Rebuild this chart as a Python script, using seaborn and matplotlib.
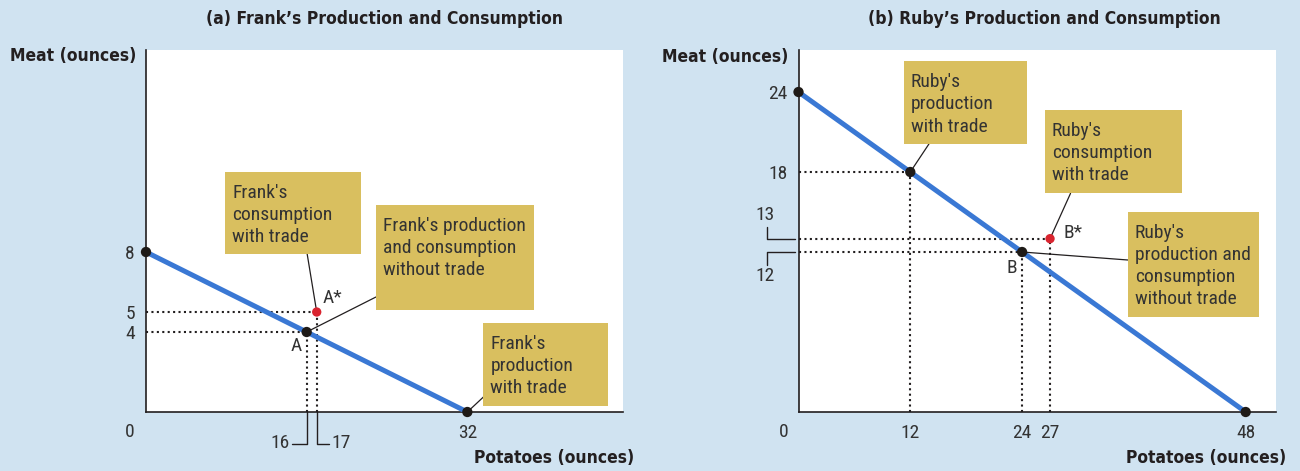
import matplotlib
matplotlib.use("Agg")
import matplotlib.pyplot as plt
import seaborn as sb
from matplotlib import font_manager
from matplotlib.patches import Rectangle

# Data: production possibility frontiers and the marked bundles
frank_potatoes = [0, 32]
frank_meat = [8, 0]
frank_points_x = [0, 16, 32]
frank_points_y = [8, 4, 0]
frank_trade_x = [17]
frank_trade_y = [5]

ruby_potatoes = [0, 48]
ruby_meat = [24, 0]
ruby_points_x = [0, 12, 24, 48]
ruby_points_y = [24, 18, 12, 0]
ruby_trade_x = [27]
ruby_trade_y = [13]

frank_yticks = [8, 5, 4]
frank_xticks = [32]
ruby_yticks = [24, 18]
ruby_xticks = [12, 24, 27, 48]

sb.set_theme(style="white")
names = {f.name for f in font_manager.fontManager.ttflist}
fams = [n for n in ["Roboto Condensed", "Liberation Sans Narrow", "DejaVu Sans"] if n in names]
plt.rcParams["font.family"] = fams
plt.rcParams["font.stretch"] = "condensed"
BOLD = dict(family=["DejaVu Sans"], fontstretch="condensed", fontweight="bold")

BG = "#d0e3f1"
LINE = "#3a78d4"
DOT = "#1e1a17"
RED = "#d9242f"
BOX = "#d9bf5f"
INK = "#231f20"
TXT = "#333333"
FS = 14

fig = plt.figure(figsize=(13, 4.71), dpi=100)
fig.patch.set_facecolor(BG)
ax_a = fig.add_axes([146 / 1300, 59 / 471, 477 / 1300, 362 / 471])
ax_b = fig.add_axes([798.5 / 1300, 59 / 471, 477 / 1300, 362 / 471])


def frame(ax, xmax, ymax):
    ax.set_xlim(0, xmax)
    ax.set_ylim(0, ymax)
    ax.set_facecolor("white")
    for s in ["top", "right"]:
        ax.spines[s].set_visible(False)
    for s in ["left", "bottom"]:
        ax.spines[s].set_color(INK)
        ax.spines[s].set_linewidth(1.2)
    ax.tick_params(length=0, labelsize=FS, colors=TXT)
    ax.tick_params(axis="y", pad=8)
    ax.tick_params(axis="x", pad=9)


def guides(ax, xs, ys):
    for x, y in zip(xs, ys):
        ax.plot([0, x], [y, y], ls=(0, (1, 1.6)), lw=1.5, color=INK, zorder=2)
        ax.plot([x, x], [0, y], ls=(0, (1, 1.6)), lw=1.5, color=INK, zorder=2)


def note(ax, x0, y0, x1, y1, text, tip, start):
    ax.add_patch(Rectangle((x0, y0), x1 - x0, y1 - y0, fc=BOX, ec="none", zorder=4))
    ax.annotate(text, xy=(x0, y1), xytext=(5, -8.5), textcoords="offset points",
                va="top", ha="left", fontsize=FS, color=TXT, linespacing=1.3, zorder=5)
    ax.plot([start[0], tip[0]], [start[1], tip[1]], color=INK, lw=0.9, zorder=3)


# (a) Frank
frame(ax_a, 47.5, 18.1)
guides(ax_a, [16, 17], [4, 5])
sb.lineplot(x=frank_potatoes, y=frank_meat, ax=ax_a, color=LINE, lw=3.6, zorder=3)
sb.scatterplot(x=frank_points_x, y=frank_points_y, ax=ax_a, color=DOT, s=55,
               edgecolor="none", zorder=6, clip_on=False)
sb.scatterplot(x=frank_trade_x, y=frank_trade_y, ax=ax_a, color=RED, s=45,
               edgecolor="none", zorder=6, clip_on=False)
ax_a.set_yticks(frank_yticks)
ax_a.set_xticks(frank_xticks)
ax_a.text(-1.6, -1.0, "0", ha="center", va="center", fontsize=FS, color=TXT)
ax_a.text(17.6, 5.7, "A*", ha="left", va="center", fontsize=FS, color=TXT)
ax_a.text(15.0, 3.3, "A", ha="center", va="center", fontsize=FS, color=TXT)
# bracketed labels for 16 and 17
ax_a.plot([14.55, 16, 16], [-1.6, -1.6, 0], color=INK, lw=1.0, clip_on=False)
ax_a.plot([17, 17, 18.25], [0, -1.6, -1.6], color=INK, lw=1.0, clip_on=False)
ax_a.text(14.35, -1.55, "16", ha="right", va="center", fontsize=FS, color=TXT)
ax_a.text(18.5, -1.55, "17", ha="left", va="center", fontsize=FS, color=TXT)
note(ax_a, 7.9, 7.9, 21.4, 12.0, "Frank's\nconsumption\nwith trade", (17, 5), (16.05, 7.9))
note(ax_a, 22.9, 5.1, 38.6, 10.35, "Frank's production\nand consumption\nwithout trade",
     (16, 4), (22.9, 5.75))
note(ax_a, 33.6, 0.3, 46.0, 4.45, "Frank's\nproduction\nwith trade", (32, 0), (33.6, 0.75))

# (b) Ruby
frame(ax_b, 51.2, 27.15)
guides(ax_b, [12, 24, 27], [18, 12, 13])
sb.lineplot(x=ruby_potatoes, y=ruby_meat, ax=ax_b, color=LINE, lw=3.6, zorder=3)
sb.scatterplot(x=ruby_points_x, y=ruby_points_y, ax=ax_b, color=DOT, s=55,
               edgecolor="none", zorder=6, clip_on=False)
sb.scatterplot(x=ruby_trade_x, y=ruby_trade_y, ax=ax_b, color=RED, s=45,
               edgecolor="none", zorder=6, clip_on=False)
ax_b.set_yticks(ruby_yticks)
ax_b.set_xticks(ruby_xticks)
ax_b.text(-1.6, -1.5, "0", ha="center", va="center", fontsize=FS, color=TXT)
ax_b.text(28.4, 13.4, "B*", ha="left", va="center", fontsize=FS, color=TXT)
ax_b.text(22.9, 10.8, "B", ha="center", va="center", fontsize=FS, color=TXT)
# bracketed labels for 13 and 12
ax_b.plot([-3.4, -3.4, -0.4], [13.9, 13.0, 13.0], color=INK, lw=1.0, clip_on=False)
ax_b.plot([-3.4, -3.4, -0.4], [11.0, 12.0, 12.0], color=INK, lw=1.0, clip_on=False)
ax_b.text(-3.6, 14.8, "13", ha="center", va="center", fontsize=FS, color=TXT)
ax_b.text(-3.6, 10.2, "12", ha="center", va="center", fontsize=FS, color=TXT)
note(ax_b, 11.3, 20.1, 24.5, 26.3, "Ruby's\nproduction\nwith trade", (12, 18), (14.0, 20.1))
note(ax_b, 26.45, 16.4, 41.15, 22.65, "Ruby's\nconsumption\nwith trade", (27, 13), (29.2, 16.4))
note(ax_b, 35.35, 7.1, 49.4, 15.0, "Ruby's\nproduction and\nconsumption\nwithout trade",
     (24, 12), (35.35, 11.4))

# titles and axis names
fig.text(385 / 1300, 1 - 19 / 471, "(a) Frank\u2019s Production and Consumption",
         ha="center", va="center", fontsize=12.5, color=INK, **BOLD)
fig.text(1044 / 1300, 1 - 19 / 471, "(b) Ruby\u2019s Production and Consumption",
         ha="center", va="center", fontsize=12.5, color=INK, **BOLD)
fig.text(10 / 1300, 1 - 56 / 471, "Meat (ounces)", ha="left", va="center",
         fontsize=12.5, color=INK, **BOLD)
fig.text(662 / 1300, 1 - 57 / 471, "Meat (ounces)", ha="left", va="center",
         fontsize=12.5, color=INK, **BOLD)
fig.text(634 / 1300, 1 - 458 / 471, "Potatoes (ounces)", ha="right", va="center",
         fontsize=12.5, color=INK, **BOLD)
fig.text(1286 / 1300, 1 - 458 / 471, "Potatoes (ounces)", ha="right", va="center",
         fontsize=12.5, color=INK, **BOLD)

fig.savefig("out.png", dpi=100, facecolor=BG)
